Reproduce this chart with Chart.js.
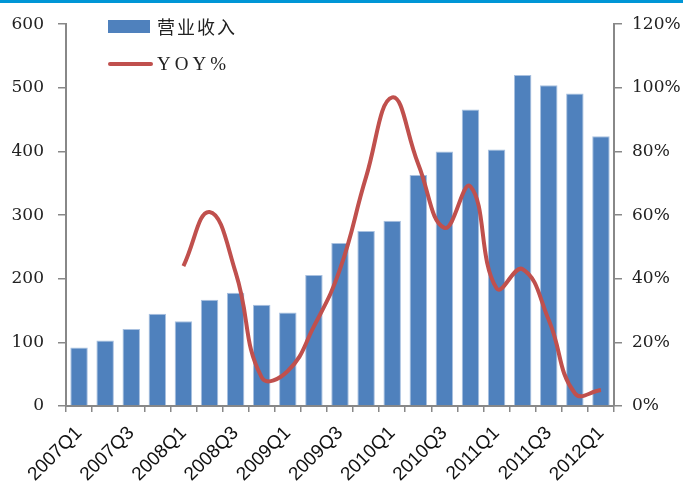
<!DOCTYPE html>
<html>
<head>
<meta charset="utf-8">
<script src="https://cdn.jsdelivr.net/npm/chart.js@4"></script>
<style>
  html, body { margin: 0; padding: 0; background: #fff; }
  #wrap { width: 683px; height: 489px; position: relative; }
  #topline { position: absolute; left: 0; top: 0; width: 683px; height: 3px; background: #0096d6; }
</style>
</head>
<body>
<div id="wrap"><canvas id="c"></canvas><div id="topline"></div></div>
<script>
// quarters shown on the x axis
const quarters = ['2007Q1','2007Q2','2007Q3','2007Q4','2008Q1','2008Q2','2008Q3','2008Q4',
  '2009Q1','2009Q2','2009Q3','2009Q4','2010Q1','2010Q2','2010Q3','2010Q4',
  '2011Q1','2011Q2','2011Q3','2011Q4','2012Q1'];
// 营业收入 (left axis)
const revenue = [92, 103, 121, 145, 133, 167, 178, 159, 147, 206, 256, 275, 291, 363, 400, 466, 403, 520, 504, 491, 424];
// YOY % (right axis), no value for 2007
const yoy = [null, null, null, null, 44, 61, 42, 9, 11, 25, 43, 72, 97, 76, 56, 69, 37, 43, 27, 4, 5];

const axisGray = '#888888';

// legend drawn inside the plot, upper left
const legendBox = {
  id: 'legendBox',
  afterDraw(chart) {
    const ctx = chart.ctx;
    ctx.save();
    ctx.fillStyle = '#4f81bd';
    ctx.fillRect(108, 20, 42, 13);
    ctx.strokeStyle = '#c0504d';
    ctx.lineWidth = 4;
    ctx.lineCap = 'round';
    ctx.beginPath();
    ctx.moveTo(110, 64);
    ctx.lineTo(151, 64);
    ctx.stroke();
    ctx.fillStyle = '#222';
    ctx.textBaseline = 'middle';
    ctx.font = '18px "Noto Sans CJK SC"';
    ctx.letterSpacing = '2px';
    ctx.fillText('营业收入', 157, 27);
    ctx.font = '19px "Liberation Serif"';
    ctx.letterSpacing = '4px';
    ctx.fillText('YOY%', 157, 65);
    ctx.restore();
  }
};

new Chart(document.getElementById('c'), {
  data: {
    labels: quarters,
    datasets: [
      {
        type: 'line',
        label: 'YOY%',
        data: yoy,
        yAxisID: 'y1',
        borderColor: '#c0504d',
        borderWidth: 4,
        pointRadius: 0,
        tension: 0.45,
        fill: false
      },
      {
        type: 'bar',
        label: '营业收入',
        data: revenue,
        yAxisID: 'y',
        backgroundColor: '#4f81bd',
        borderColor: '#a9c1e0',
        borderWidth: 1,
        barPercentage: 0.67,
        categoryPercentage: 1
      }
    ]
  },
  options: {
    responsive: true,
    maintainAspectRatio: false,
    animation: false,
    layout: { padding: { top: 19, right: 0, left: 0, bottom: 0 } },
    plugins: { legend: { display: false }, tooltip: { enabled: false } },
    scales: {
      x: {
        offset: true,
        border: { color: axisGray, width: 2 },
        grid: { display: true, drawOnChartArea: false, offset: true, tickLength: 6, color: axisGray, lineWidth: 1.5 },
        ticks: {
          autoSkip: false,
          minRotation: 45,
          maxRotation: 45,
          padding: 10,
          color: '#111',
          font: { family: 'Liberation Sans', size: 19 },
          callback: function(v, i) { return i % 2 === 0 ? this.getLabelForValue(v) : ''; }
        },
        afterFit(s) { s.height = 83; }
      },
      y: {
        position: 'left',
        min: 0, max: 600,
        border: { color: axisGray, width: 2 },
        grid: { display: true, drawOnChartArea: false, tickLength: 8, color: axisGray, lineWidth: 1.5 },
        ticks: { stepSize: 100, color: '#222', padding: 14, font: { family: 'DejaVu Serif', size: 17 } },
        afterFit(s) { s.width = 66; }
      },
      y1: {
        position: 'right',
        min: 0, max: 120,
        border: { color: axisGray, width: 2 },
        grid: { display: true, drawOnChartArea: false, tickLength: 8, color: axisGray, lineWidth: 1.5 },
        ticks: { stepSize: 20, color: '#222', padding: 10, font: { family: 'DejaVu Serif', size: 17 },
          callback: v => v + '%' },
        afterFit(s) { s.width = 69; }
      }
    }
  },
  plugins: [legendBox]
});
</script>
</body>
</html>
